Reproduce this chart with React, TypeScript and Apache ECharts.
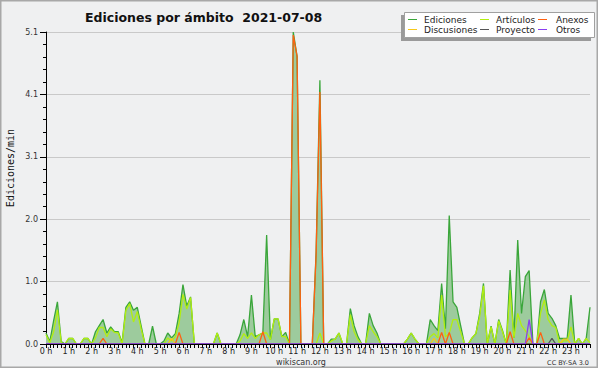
import React, { useEffect, useRef } from "react";
import * as echarts from "echarts";

// 10-minute slots for the day
const slots: string[] = [];
for (let h = 0; h < 24; h++) {
  for (let m = 0; m < 60; m += 10) {
    slots.push(`${String(h).padStart(2, "0")}:${String(m).padStart(2, "0")}`);
  }
}

// Ediciones (edits/min), one row per hour, 6 values per row (every 10 min)
const edicionesByHour: number[][] = [
  [0.18, 0.04, 0.38, 0.69, 0.04, 0],
  [0.09, 0.09, 0, 0, 0.09, 0.09],
  [0, 0.2, 0.3, 0.4, 0.18, 0.28],
  [0.2, 0.2, 0.02, 0.6, 0.69, 0.55],
  [0.6, 0.3, 0, 0, 0.29, 0],
  [0, 0.05, 0.18, 0.1, 0.17, 0.5],
  [0.97, 0.62, 0.77, 0, 0, 0],
  [0, 0, 0, 0.18, 0, 0],
  [0, 0, 0, 0.15, 0.4, 0.12],
  [0.8, 0.12, 0.15, 0.18, 1.78, 0.07],
  [0.41, 0.41, 0.12, 0.19, 0, 5.1],
  [4.7, 0, 0, 0, 0, 1.5],
  [4.31, 0, 0, 0.08, 0.08, 0.18],
  [0, 0, 0.58, 0.3, 0.12, 0],
  [0, 0.5, 0.3, 0.18, 0, 0],
  [0, 0, 0, 0, 0, 0.08],
  [0.18, 0.08, 0, 0, 0, 0.4],
  [0.3, 0.22, 0.99, 0.25, 2.1, 0.69],
  [0.6, 0.3, 0, 0, 0.1, 0.17],
  [0.5, 0.99, 0, 0.29, 0, 0.4],
  [0.22, 0, 1.21, 0.1, 1.7, 0.5],
  [1.1, 1.2, 0, 0, 0.69, 0.89],
  [0.5, 0.42, 0.3, 0.09, 0.09, 0.09],
  [0.8, 0, 0.09, 0, 0.09, 0.6],
];

// Artículos
const articulosByHour: number[][] = [
  [0.15, 0.02, 0.2, 0.56, 0.02, 0],
  [0.09, 0.09, 0, 0, 0.09, 0.09],
  [0, 0.1, 0.27, 0.27, 0.12, 0.25],
  [0.19, 0.18, 0, 0.55, 0.66, 0.36],
  [0.53, 0.25, 0, 0, 0, 0],
  [0, 0, 0.1, 0.05, 0.12, 0.35],
  [0.81, 0.57, 0.76, 0, 0, 0],
  [0, 0, 0, 0.18, 0, 0],
  [0, 0, 0, 0.05, 0.17, 0.09],
  [0.18, 0.09, 0.15, 0.18, 0.18, 0.07],
  [0.41, 0.41, 0.12, 0.12, 0, 0],
  [0, 0, 0, 0, 0, 0],
  [0.18, 0, 0, 0.05, 0.08, 0.18],
  [0, 0, 0.48, 0.2, 0.07, 0],
  [0, 0.3, 0.2, 0.12, 0, 0],
  [0, 0, 0, 0, 0, 0.08],
  [0.18, 0.08, 0, 0, 0, 0.12],
  [0.17, 0.1, 0.8, 0.12, 0.17, 0.4],
  [0.4, 0.2, 0, 0, 0.1, 0.17],
  [0.45, 0.95, 0, 0.28, 0, 0.38],
  [0.2, 0, 0.88, 0.1, 0.5, 0.3],
  [0.22, 0.12, 0, 0, 0.5, 0.72],
  [0.4, 0.3, 0.27, 0, 0.05, 0.05],
  [0.28, 0, 0.09, 0, 0.09, 0.02],
];

// Sparse series: [slot, value]; other slots are 0
const anexosPoints: [string, number][] = [
  ["02:30", 0.09], ["05:50", 0.19], ["09:30", 0.2], ["10:50", 5.05], ["11:00", 4.7],
  ["11:50", 1.45], ["12:00", 4.12], ["17:20", 0.19], ["17:40", 0.19], ["20:20", 0.2],
  ["21:10", 0.1], ["21:40", 0.19],
];
const discusionesPoints: [string, number][] = [
  ["05:30", 0.09], ["17:00", 0.09], ["22:40", 0.08], ["22:50", 0.08],
];
const proyectoPoints: [string, number][] = [["22:10", 0.09]];
const otrosPoints: [string, number][] = [["21:10", 0.4]];

const yTicks = [0, 1.02, 2.04, 3.06, 4.08, 5.1];

const fromSparse = (pts: [string, number][]) =>
  slots.map((s) => {
    const p = pts.find((q) => q[0] === s);
    return p ? p[1] : 0;
  });

const COLORS = {
  ediciones: "#3aa63a",
  area: "#9dcb9d",
  articulos: "#b2ee10",
  anexos: "#ff6010",
  discusiones: "#f7c81a",
  proyecto: "#555555",
  otros: "#8a3ef0",
};

export default function App() {
  const ref = useRef<HTMLDivElement>(null);

  useEffect(() => {
    document.body.style.margin = "0";
    if (!ref.current) return;
    const chart = echarts.init(ref.current, undefined, { renderer: "svg" });

    const ediciones = edicionesByHour.flat();
    const articulos = articulosByHour.flat();

    const lineSeries = (name: string, data: number[], color: string, extra: any = {}) => ({
      name,
      type: "line",
      data,
      symbol: "none",
      smooth: false,
      lineStyle: { color, width: 1.3 },
      itemStyle: { color },
      ...extra,
    });

    const legendItems = [
      { name: "Ediciones", color: COLORS.ediciones, col: 0, row: 0 },
      { name: "Artículos", color: COLORS.articulos, col: 1, row: 0 },
      { name: "Anexos", color: COLORS.anexos, col: 2, row: 0 },
      { name: "Discusiones", color: COLORS.discusiones, col: 0, row: 1 },
      { name: "Proyecto", color: COLORS.proyecto, col: 1, row: 1 },
      { name: "Otros", color: COLORS.otros, col: 2, row: 1 },
    ];
    const colLineX = [408, 480, 538];
    const colTextX = [424, 496, 556];
    const rowY = [19.5, 29.5];

    const legendGraphics: any[] = [];
    legendItems.forEach((it) => {
      legendGraphics.push({
        type: "line",
        shape: { x1: colLineX[it.col], y1: rowY[it.row], x2: colLineX[it.col] + 9, y2: rowY[it.row] },
        style: { stroke: it.color, lineWidth: 1 },
        z: 12,
      });
      legendGraphics.push({
        type: "text",
        x: colTextX[it.col],
        y: rowY[it.row],
        style: {
          text: it.name,
          fill: "#222",
          font: "9px 'DejaVu Sans'",
          verticalAlign: "middle",
          align: "left",
        },
        z: 12,
      });
    });

    chart.setOption({
      animation: false,
      backgroundColor: "#ffffff",
      title: {
        text: "Ediciones por ámbito  2021-07-08",
        left: 80,
        top: 6,
        textStyle: { fontFamily: "DejaVu Sans", fontWeight: "bold", fontSize: 12.5, color: "#111" },
      },
      grid: { left: 46, right: 10, top: 32, bottom: 26, containLabel: false },
      xAxis: {
        type: "category",
        data: slots,
        boundaryGap: false,
        z: 4,
        axisLine: { lineStyle: { color: "#000", width: 1 } },
        axisTick: { show: true, interval: 0, length: 4, lineStyle: { color: "#000" } },
        axisLabel: {
          interval: 5,
          margin: 3,
          fontSize: 8,
          fontFamily: "DejaVu Sans",
          color: "#222",
          hideOverlap: false,
          formatter: (_v: string, idx: number) => (idx % 6 === 0 ? `${idx / 6} h` : ""),
        },
        splitLine: { show: false },
      },
      yAxis: {
        type: "value",
        min: yTicks[0],
        max: yTicks[yTicks.length - 1],
        interval: yTicks[1],
        axisLine: { show: true, lineStyle: { color: "#000", width: 1 } },
        axisTick: { show: true, length: 6, lineStyle: { color: "#000" } },
        minorTick: { show: true, splitNumber: 5, length: 3, lineStyle: { color: "#000" } },
        axisLabel: {
          margin: 8,
          fontSize: 8,
          fontFamily: "DejaVu Sans",
          color: "#333",
          formatter: (v: number) => v.toFixed(1),
        },
        splitLine: { show: true, lineStyle: { color: "#c9c9c9", width: 1 } },
      },
      series: [
        lineSeries("Ediciones", ediciones, COLORS.ediciones, {
          areaStyle: { color: COLORS.area, opacity: 1 },
        }),
        lineSeries("Artículos", articulos, COLORS.articulos),
        lineSeries("Anexos", fromSparse(anexosPoints), COLORS.anexos),
        lineSeries("Discusiones", fromSparse(discusionesPoints), COLORS.discusiones),
        lineSeries("Proyecto", fromSparse(proyectoPoints), COLORS.proyecto),
        lineSeries("Otros", fromSparse(otrosPoints), COLORS.otros),
      ],
      graphic: [
        {
          type: "rect",
          shape: { x: 0.75, y: 0.75, width: 596.5, height: 366.5 },
          style: { fill: "#eff0f1", stroke: "#a8a8a8", lineWidth: 1.5 },
          z: -10,
          silent: true,
        },
        {
          type: "text",
          x: 10,
          y: 168,
          rotation: Math.PI / 2,
          style: {
            text: "Ediciones/min",
            fill: "#111",
            font: "10px 'DejaVu Sans Mono'",
            align: "center",
            verticalAlign: "middle",
          },
        },
        {
          type: "text",
          x: 301,
          y: 362,
          style: {
            text: "wikiscan.org",
            fill: "#333",
            font: "8px 'DejaVu Sans'",
            align: "center",
            verticalAlign: "middle",
          },
        },
        {
          type: "text",
          x: 589,
          y: 363,
          style: {
            text: "CC BY-SA 3.0",
            fill: "#333",
            font: "6.5px 'DejaVu Sans'",
            align: "right",
            verticalAlign: "middle",
          },
        },
        {
          type: "rect",
          shape: { x: 401, y: 15, width: 190, height: 26 },
          style: { fill: "#9a9a9a" },
          z: 10,
        },
        {
          type: "rect",
          shape: { x: 404.5, y: 12.5, width: 190, height: 25 },
          style: { fill: "#ffffff", stroke: "#a0a0a0", lineWidth: 1 },
          z: 11,
        },
        ...legendGraphics,
      ],
    });

    return () => chart.dispose();
  }, []);

  return (
    <div
      ref={ref}
      style={{ position: "fixed", left: 0, top: 0, width: 600, height: 370 }}
    />
  );
}
